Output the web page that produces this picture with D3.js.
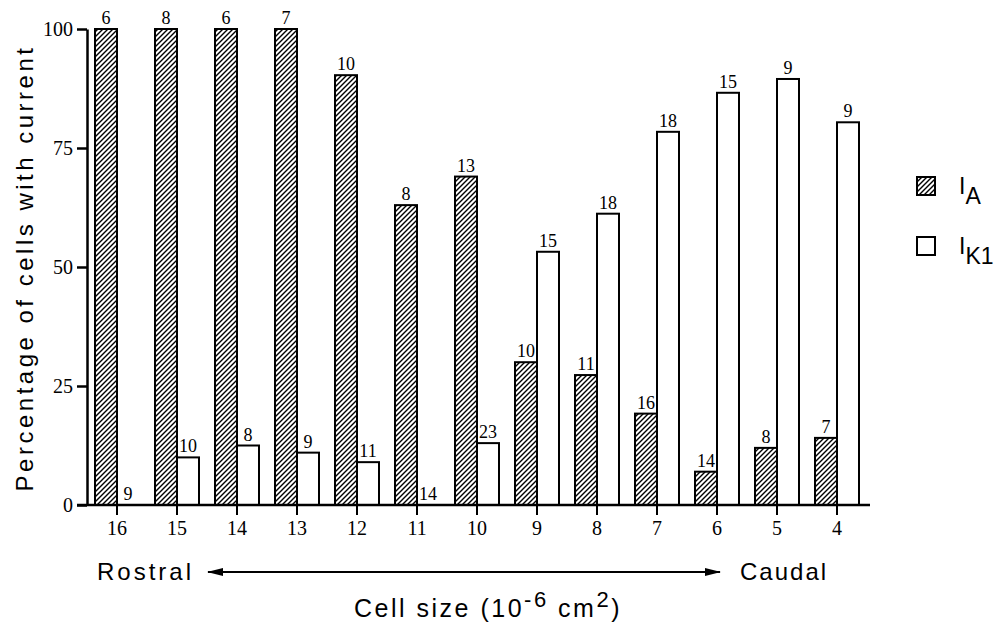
<!DOCTYPE html>
<html>
<head>
<meta charset="utf-8">
<script src="https://cdn.jsdelivr.net/npm/d3@7"></script>
<style>
  body { margin: 0; background: #fff; }
  svg { display: block; }
</style>
</head>
<body>
<div id="chart"></div>
<script>
// Cell size categories (10^-6 cm2), rostral -> caudal
var categories = ["16", "15", "14", "13", "12", "11", "10", "9", "8", "7", "6", "5", "4"];
var series = ["IA", "IK1"];

// Percentage of cells with each current
var valuesIA  = [100, 100, 100, 100, 90.3, 63, 69, 30, 27.3, 19.2, 7, 12, 14.1];
var valuesIK1 = [0, 10, 12.5, 11, 9, 0, 13, 53.2, 61.2, 78.4, 86.6, 89.5, 80.4];

// number of cells tested (printed above each bar)
var countsIA  = [6, 8, 6, 7, 10, 8, 13, 10, 11, 16, 14, 8, 7];
var countsIK1 = [9, 10, 8, 9, 11, 14, 23, 15, 18, 18, 15, 9, 9];

var yTicks = [0, 25, 50, 75, 100];

var width = 995, height = 625;
var serif = "'Liberation Serif', 'Times New Roman', serif";
var sans = "'Liberation Sans', Arial, sans-serif";

var svg = d3.select("#chart").append("svg")
    .attr("width", width)
    .attr("height", height);

// diagonal hatch pattern for I_A
var defs = svg.append("defs");
var pat = defs.append("pattern")
    .attr("id", "hatch")
    .attr("patternUnits", "userSpaceOnUse")
    .attr("width", 5)
    .attr("height", 5);
pat.append("rect").attr("width", 5).attr("height", 5).attr("fill", "#fff");
pat.append("path")
    .attr("d", "M-1,1 l2,-2 M0,5 l5,-5 M4,6 l2,-2")
    .attr("stroke", "#000")
    .attr("stroke-width", 1.4);

var x = d3.scaleBand()
    .domain(categories)
    .range([87, 87 + 60 * categories.length]);

var xSub = d3.scaleBand()
    .domain(series)
    .range([-22, 22]);

var y = d3.scaleLinear()
    .domain([0, 100])
    .range([505, 29]);

var data = categories.map(function(c, i) {
    return [
        { cat: c, key: "IA", value: valuesIA[i], n: countsIA[i] },
        { cat: c, key: "IK1", value: valuesIK1[i], n: countsIK1[i] }
    ];
});

// bars
var groups = svg.selectAll(".grp")
    .data(data)
    .enter().append("g")
    .attr("class", "grp")
    .attr("transform", function(d) { return "translate(" + (x(d[0].cat) + x.bandwidth() / 2) + ",0)"; });

groups.selectAll("rect")
    .data(function(d) { return d.filter(function(e) { return e.value > 0; }); })
    .enter().append("rect")
    .attr("x", function(d) { return xSub(d.key); })
    .attr("y", function(d) { return y(d.value); })
    .attr("width", xSub.bandwidth())
    .attr("height", function(d) { return y(0) - y(d.value); })
    .attr("fill", function(d) { return d.key === "IA" ? "url(#hatch)" : "#fff"; })
    .attr("stroke", "#000")
    .attr("stroke-width", 2);

groups.selectAll("text.n")
    .data(function(d) { return d; })
    .enter().append("text")
    .attr("class", "n")
    .attr("x", function(d) { return xSub(d.key) + xSub.bandwidth() / 2; })
    .attr("y", function(d) { return y(d.value) - 5; })
    .attr("text-anchor", "middle")
    .attr("font-family", serif)
    .attr("font-size", 18)
    .text(function(d) { return d.n; });

// y axis
var yAxis = svg.append("g")
    .attr("transform", "translate(87,0)")
    .call(d3.axisLeft(y).tickValues(yTicks).tickSize(10).tickSizeOuter(0).tickPadding(4));
yAxis.select(".domain").attr("stroke-width", 2.5);
yAxis.selectAll(".tick line").attr("stroke-width", 2.5);
yAxis.selectAll("text")
    .attr("font-family", serif)
    .attr("font-size", 20)
    .attr("fill", "#000");

// x axis
var xAxis = svg.append("g")
    .attr("transform", "translate(0,505)")
    .call(d3.axisBottom(x).tickSize(10).tickSizeOuter(0).tickPadding(6));
xAxis.select(".domain").remove();
xAxis.selectAll(".tick line").attr("stroke-width", 2);
xAxis.selectAll("text")
    .attr("font-family", serif)
    .attr("font-size", 20)
    .attr("fill", "#000");
svg.append("line")
    .attr("x1", 77).attr("x2", 870)
    .attr("y1", 505).attr("y2", 505)
    .attr("stroke", "#000")
    .attr("stroke-width", 2.5);

// y axis title
svg.append("text")
    .attr("transform", "translate(33,268) rotate(-90)")
    .attr("text-anchor", "middle")
    .attr("font-family", sans)
    .attr("font-size", 24)
    .attr("letter-spacing", 3.5)
    .text("Percentage of cells with current");

// Rostral <-> Caudal arrow
defs.append("marker")
    .attr("id", "arrow")
    .attr("viewBox", "0 0 16 8")
    .attr("refX", 15).attr("refY", 4)
    .attr("markerWidth", 16).attr("markerHeight", 8)
    .attr("markerUnits", "userSpaceOnUse")
    .attr("orient", "auto-start-reverse")
    .append("path")
    .attr("d", "M0,0 L16,4 L0,8 Z")
    .attr("fill", "#000");

svg.append("line")
    .attr("x1", 208).attr("x2", 720)
    .attr("y1", 572).attr("y2", 572)
    .attr("stroke", "#000")
    .attr("stroke-width", 2)
    .attr("marker-start", "url(#arrow)")
    .attr("marker-end", "url(#arrow)");

svg.append("text")
    .attr("x", 97).attr("y", 580)
    .attr("font-family", sans)
    .attr("font-size", 24)
    .attr("letter-spacing", 3)
    .text("Rostral");

svg.append("text")
    .attr("x", 740).attr("y", 580)
    .attr("font-family", sans)
    .attr("font-size", 24)
    .attr("letter-spacing", 2)
    .text("Caudal");

var xt = svg.append("text")
    .attr("x", 488).attr("y", 617)
    .attr("text-anchor", "middle")
    .attr("font-family", sans)
    .attr("font-size", 25)
    .attr("letter-spacing", 2.5);
xt.append("tspan").text("Cell size (10");
xt.append("tspan").attr("dy", -10).attr("font-size", 22).text("-6");
xt.append("tspan").attr("dy", 10).text(" cm");
xt.append("tspan").attr("dy", -10).attr("font-size", 22).text("2");
xt.append("tspan").attr("dy", 10).text(")");

// legend
var legend = svg.selectAll(".leg")
    .data(series)
    .enter().append("g")
    .attr("class", "leg")
    .attr("transform", function(d, i) { return "translate(917," + (177 + i * 60) + ")"; });
legend.append("rect")
    .attr("width", 18).attr("height", 18)
    .attr("fill", function(d) { return d === "IA" ? "url(#hatch)" : "#fff"; })
    .attr("stroke", "#000")
    .attr("stroke-width", 2);
var lt = legend.append("text")
    .attr("x", 42).attr("y", 17)
    .attr("font-family", sans)
    .attr("font-size", 23);
lt.append("tspan").text("I");
lt.append("tspan").attr("dy", 10).text(function(d) { return d === "IA" ? "A" : "K1"; });
</script>
</body>
</html>
